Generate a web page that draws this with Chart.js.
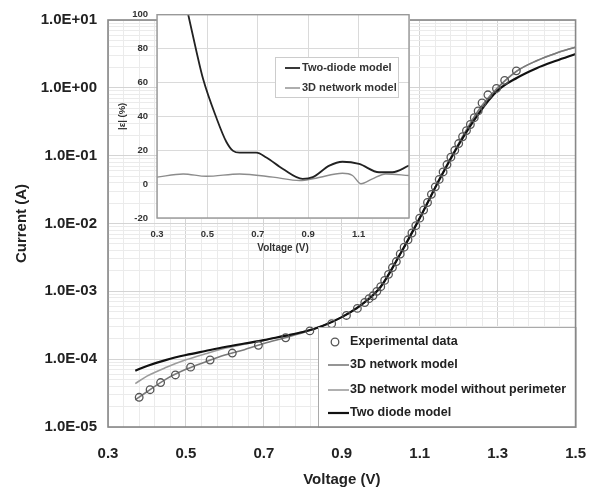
<!DOCTYPE html>
<html>
<head>
<meta charset="utf-8">
<script src="https://cdn.jsdelivr.net/npm/chart.js"></script>
<style>
  html, body { margin: 0; padding: 0; background: #fff; }
  #wrap { position: relative; width: 604px; height: 490px; }
  #main { position: absolute; left: 0; top: 0; }
  #inset { position: absolute; left: 110px; top: 0; }
</style>
</head>
<body>
<div id="wrap">
  <canvas id="main" width="604" height="490"></canvas>
  <canvas id="inset" width="310" height="258"></canvas>
</div>
<script>
// measured I-V points (V, A)
const expVoltage = [0.38, 0.408, 0.435, 0.473, 0.512, 0.562, 0.619, 0.686, 0.756, 0.818, 0.874, 0.912,
  0.94, 0.959, 0.97, 0.98, 0.99, 1.0, 1.01, 1.02, 1.03, 1.04, 1.05, 1.06, 1.07, 1.08, 1.09, 1.10,
  1.11, 1.12, 1.13, 1.14, 1.15, 1.16, 1.17, 1.18, 1.19, 1.20, 1.21, 1.22, 1.23, 1.24, 1.25, 1.26,
  1.275, 1.297, 1.318, 1.348];
const expCurrent = [2.74e-5, 3.55e-5, 4.52e-5, 5.85e-5, 7.62e-5, 9.72e-5, 1.23e-4, 1.60e-4, 2.07e-4, 2.61e-4, 3.33e-4, 4.41e-4,
  5.6e-4, 6.85e-4, 7.8e-4, 8.6e-4, 1.0e-3, 1.17e-3, 1.45e-3, 1.78e-3, 2.24e-3, 2.75e-3, 3.55e-3, 4.47e-3, 5.75e-3, 7.24e-3, 9.3e-3, 1.2e-2,
  1.58e-2, 2.04e-2, 2.69e-2, 3.47e-2, 4.47e-2, 5.75e-2, 7.4e-2, 9.5e-2, 0.12, 0.151, 0.19, 0.234, 0.288, 0.363, 0.457, 0.60,
  0.79, 0.98, 1.29, 1.78];

// model curves, all on the same voltage grid
const modelVoltage = [0.37, 0.40, 0.45, 0.50, 0.55, 0.60, 0.65, 0.70, 0.75, 0.80, 0.85, 0.90,
  0.95, 1.00, 1.05, 1.10, 1.15, 1.20, 1.25, 1.30, 1.35, 1.40, 1.45, 1.50];
const net3dCurrent = [2.51e-5, 3.31e-5, 5.13e-5, 7.08e-5, 9.12e-5, 1.15e-4, 1.38e-4, 1.70e-4, 2.04e-4, 2.45e-4, 3.09e-4, 4.17e-4,
  6.31e-4, 1.17e-3, 3.55e-3, 1.20e-2, 4.47e-2, 0.151, 0.457, 1.0, 1.78, 2.51, 3.24, 3.98];
const net3dNoPerimCurrent = [4.37e-5, 5.62e-5, 7.59e-5, 9.77e-5, 1.20e-4, 1.45e-4, 1.66e-4, 1.91e-4, 2.19e-4, 2.51e-4, 3.09e-4, 4.17e-4,
  6.31e-4, 1.17e-3, 3.55e-3, 1.20e-2, 4.47e-2, 0.151, 0.457, 1.0, 1.78, 2.51, 3.24, 3.98];
const twoDiodeCurrent = [6.76e-5, 7.94e-5, 9.77e-5, 1.15e-4, 1.32e-4, 1.51e-4, 1.70e-4, 1.91e-4, 2.19e-4, 2.51e-4, 3.09e-4, 4.17e-4,
  6.31e-4, 1.17e-3, 3.55e-3, 1.20e-2, 4.37e-2, 0.145, 0.407, 0.912, 1.41, 1.95, 2.51, 3.16];

const xTickLabels = ['0.3', '0.5', '0.7', '0.9', '1.1', '1.3', '1.5'];
const yTickLabels = ['1.0E-05', '1.0E-04', '1.0E-03', '1.0E-02', '1.0E-01', '1.0E+00', '1.0E+01'];

// inset: relative error |e| in %
const insetTwoDiodeV = [0.40, 0.424, 0.457, 0.483, 0.536, 0.575, 0.602, 0.628, 0.694, 0.734, 0.80, 0.878, 0.918, 0.984, 1.036, 1.102, 1.181, 1.234, 1.30];
const insetTwoDiodeErr = [115, 100, 78, 62, 39, 25, 19.6, 18.6, 18.6, 15.7, 8.9, 3.1, 4.1, 10.9, 13.2, 11.9, 7.0, 7.0, 10.9];
const inset3dV = [0.30, 0.404, 0.496, 0.628, 0.76, 0.866, 0.931, 1.036, 1.076, 1.109, 1.155, 1.207, 1.30];
const inset3dErr = [4.1, 6.0, 4.6, 6.0, 4.1, 2.1, 3.5, 6.4, 5.1, 0.2, 3.1, 6.0, 5.1];
const insetXTickLabels = ['0.3', '0.5', '0.7', '0.9', '1.1'];
const insetYTickLabels = ['-20', '0', '20', '40', '60', '80', '100'];

const FONT = 'Liberation Sans, Arial, sans-serif';
const pts = (xs, ys) => xs.map((x, i) => ({ x: x, y: ys[i] }));
const near = (a, b) => Math.abs(a - b) < 1e-6;

// white legend box inside the plot + plot frame
const mainDecor = {
  id: 'mainDecor',
  afterDraw(chart) {
    const ctx = chart.ctx, a = chart.chartArea;
    const ds = chart.data.datasets;
    ctx.save();
    const lx = 318, ly = 327;
    ctx.fillStyle = '#fff';
    ctx.fillRect(lx, ly, a.right - lx, a.bottom - ly);
    ctx.strokeStyle = '#aaa';
    ctx.lineWidth = 1;
    ctx.strokeRect(lx + 0.5, ly + 0.5, a.right - lx, a.bottom - ly);
    ctx.font = 'bold 12.5px ' + FONT;
    ctx.textBaseline = 'middle';
    const rows = [342, 365, 390, 413];
    ds.forEach((d, i) => {
      const y = rows[i];
      if (i === 0) {
        ctx.beginPath();
        ctx.arc(335, y, 3.8, 0, Math.PI * 2);
        ctx.strokeStyle = d.borderColor;
        ctx.lineWidth = 1.3;
        ctx.stroke();
      } else {
        ctx.beginPath();
        ctx.moveTo(328, y);
        ctx.lineTo(349, y);
        ctx.strokeStyle = d.borderColor;
        ctx.lineWidth = d.borderWidth;
        ctx.stroke();
      }
      ctx.fillStyle = '#222';
      ctx.fillText(d.label, 350, y);
    });
    ctx.strokeStyle = '#888';
    ctx.lineWidth = 1.6;
    ctx.strokeRect(a.left, a.top, a.right - a.left, a.bottom - a.top);
    ctx.restore();
  }
};

new Chart(document.getElementById('main'), {
  type: 'scatter',
  data: {
    datasets: [
      { label: 'Experimental data', data: pts(expVoltage, expCurrent), showLine: false,
        pointStyle: 'circle', pointRadius: 3.8, pointBorderWidth: 1.3,
        borderColor: '#555', backgroundColor: 'rgba(255,255,255,0)', order: 0 },
      { label: '3D network model', data: pts(modelVoltage, net3dCurrent), showLine: true,
        pointRadius: 0, borderColor: '#7a7a7a', borderWidth: 1.6, cubicInterpolationMode: 'monotone', order: 2 },
      { label: '3D network model without perimeter', data: pts(modelVoltage, net3dNoPerimCurrent), showLine: true,
        pointRadius: 0, borderColor: '#9c9c9c', borderWidth: 1.6, cubicInterpolationMode: 'monotone', order: 3 },
      { label: 'Two diode model', data: pts(modelVoltage, twoDiodeCurrent), showLine: true,
        pointRadius: 0, borderColor: '#111', borderWidth: 2.2, cubicInterpolationMode: 'monotone', order: 1 }
    ]
  },
  options: {
    responsive: false,
    animation: false,
    layout: { padding: { top: 12, right: 26, left: 0, bottom: 0 } },
    plugins: { legend: { display: false }, tooltip: { enabled: false } },
    scales: {
      x: {
        type: 'linear', min: 0.3, max: 1.5,
        afterFit: s => { s.height = 63; },
        afterBuildTicks: s => {
          const t = [];
          for (let i = 0; i <= 30; i++) t.push({ value: 0.3 + i * 0.04 });
          s.ticks = t;
        },
        ticks: {
          autoSkip: false, maxRotation: 0, padding: 18, color: '#222',
          font: { family: FONT, size: 15, weight: 'bold' },
          callback: v => xTickLabels.find(l => near(parseFloat(l), v)) || ''
        },
        grid: {
          drawTicks: false,
          color: c => (c.tick && xTickLabels.some(l => near(parseFloat(l), c.tick.value))) ? '#d4d4d4' : '#ebebeb'
        },
        border: { display: false },
        title: { display: true, text: 'Voltage (V)', color: '#222',
          font: { family: FONT, size: 15, weight: 'bold' }, padding: { top: 0, bottom: 1 } }
      },
      y: {
        type: 'logarithmic', min: 1e-5, max: 10,
        afterFit: s => { s.width = 108; },
        afterBuildTicks: s => {
          const t = [];
          for (let e = -5; e <= 1; e++) {
            for (let m = 1; m <= 9; m++) {
              if (e === 1 && m > 1) break;
              t.push({ value: m * Math.pow(10, e) });
            }
          }
          s.ticks = t;
        },
        ticks: {
          autoSkip: false, padding: 11, color: '#222',
          font: { family: FONT, size: 15, weight: 'bold' },
          callback: v => {
            const e = Math.log10(v);
            return near(e, Math.round(e)) ? yTickLabels[Math.round(e) + 5] : '';
          }
        },
        grid: {
          drawTicks: false,
          color: c => {
            if (!c.tick) return '#ebebeb';
            const e = Math.log10(c.tick.value);
            return near(e, Math.round(e)) ? '#d4d4d4' : '#ebebeb';
          }
        },
        border: { display: false },
        title: { display: true, text: 'Current (A)', color: '#222',
          font: { family: FONT, size: 15, weight: 'bold' }, padding: { top: 13, bottom: 0 } }
      }
    }
  },
  plugins: [mainDecor]
});

// inset: white plot area, frame and its own legend
const insetDecor = {
  id: 'insetDecor',
  beforeDraw(chart) {
    const a = chart.chartArea, ctx = chart.ctx;
    ctx.save();
    ctx.fillStyle = '#fff';
    ctx.fillRect(a.left, a.top, a.right - a.left, a.bottom - a.top);
    ctx.restore();
  },
  afterDraw(chart) {
    const a = chart.chartArea, ctx = chart.ctx;
    const ds = chart.data.datasets;
    ctx.save();
    ctx.strokeStyle = '#999';
    ctx.lineWidth = 1.4;
    ctx.strokeRect(a.left, a.top, a.right - a.left, a.bottom - a.top);
    const bx = 165, by = 57, bw = 123, bh = 40;
    ctx.fillStyle = '#fff';
    ctx.fillRect(bx, by, bw, bh);
    ctx.strokeStyle = '#ccc';
    ctx.lineWidth = 1;
    ctx.strokeRect(bx + 0.5, by + 0.5, bw, bh);
    ctx.font = 'bold 11px ' + FONT;
    ctx.textBaseline = 'middle';
    [68, 88].forEach((y, i) => {
      ctx.beginPath();
      ctx.moveTo(175, y);
      ctx.lineTo(190, y);
      ctx.strokeStyle = ds[i].borderColor;
      ctx.lineWidth = ds[i].borderWidth;
      ctx.stroke();
      ctx.fillStyle = '#333';
      ctx.fillText(ds[i].label, 192, y);
    });
    ctx.restore();
  }
};

new Chart(document.getElementById('inset'), {
  type: 'scatter',
  data: {
    datasets: [
      { label: 'Two-diode model', data: pts(insetTwoDiodeV, insetTwoDiodeErr), showLine: true,
        pointRadius: 0, borderColor: '#222', borderWidth: 1.8, cubicInterpolationMode: 'monotone' },
      { label: '3D network model', data: pts(inset3dV, inset3dErr), showLine: true,
        pointRadius: 0, borderColor: '#8c8c8c', borderWidth: 1.4, cubicInterpolationMode: 'monotone' }
    ]
  },
  options: {
    responsive: false,
    animation: false,
    layout: { padding: { top: 12, right: 10, left: 0, bottom: 0 } },
    plugins: { legend: { display: false }, tooltip: { enabled: false } },
    scales: {
      x: {
        type: 'linear', min: 0.3, max: 1.3,
        afterFit: s => { s.height = 40; },
        afterBuildTicks: s => {
          const t = [];
          for (let i = 0; i <= 5; i++) t.push({ value: 0.3 + i * 0.2 });
          s.ticks = t;
        },
        ticks: {
          autoSkip: false, maxRotation: 0, padding: 11, color: '#333',
          font: { family: FONT, size: 9.5, weight: 'bold' },
          callback: v => insetXTickLabels.find(l => near(parseFloat(l), v)) || ''
        },
        grid: { drawTicks: false, color: '#dadada' },
        border: { display: false },
        title: { display: true, text: 'Voltage (V)', color: '#333',
          font: { family: FONT, size: 10, weight: 'bold' }, padding: { top: 0, bottom: 4 } }
      },
      y: {
        type: 'linear', min: -20, max: 100,
        afterFit: s => { s.width = 47; },
        afterBuildTicks: s => {
          s.ticks = insetYTickLabels.map(l => ({ value: parseFloat(l) }));
        },
        ticks: {
          autoSkip: false, padding: 9, color: '#333',
          font: { family: FONT, size: 9.5, weight: 'bold' },
          callback: v => insetYTickLabels.find(l => near(parseFloat(l), v)) || ''
        },
        grid: { drawTicks: false, color: '#dadada' },
        border: { display: false },
        title: { display: true, text: '|ε| (%)', color: '#333',
          font: { family: FONT, size: 9.5, weight: 'bold' }, padding: { top: 7, bottom: 0 } }
      }
    }
  },
  plugins: [insetDecor]
});
</script>
</body>
</html>
